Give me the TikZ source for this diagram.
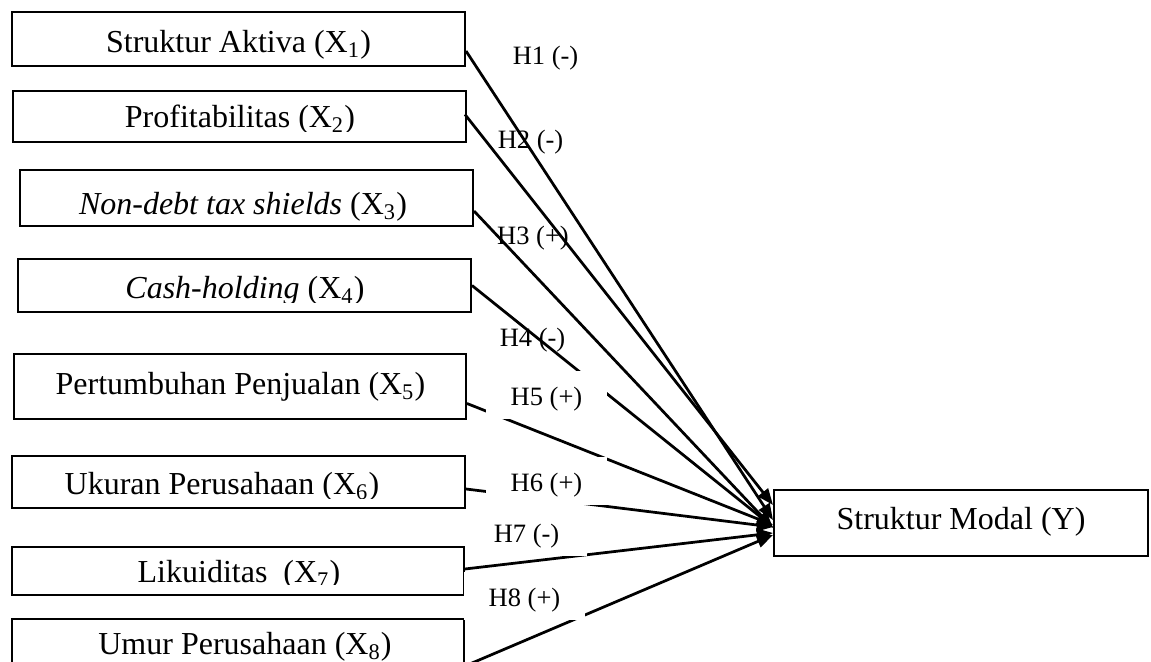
\documentclass[tikz,border=0pt]{standalone}
\usepackage{fontspec}
\setmainfont{Liberation Serif}
\usetikzlibrary{arrows.meta,calc,fit}
\begin{document}
\begin{tikzpicture}[x=0.4bp,y=-0.4bp,
  box/.style={draw,line width=0.8bp,inner sep=0pt},
  boxtext/.style={anchor=base,inner sep=0pt,font=\fontsize{12.8bp}{15bp}\selectfont},
  hyp/.style={anchor=base,inner sep=0pt,font=\fontsize{10.6bp}{12bp}\selectfont},
  hypbox/.style={hyp,fill=white,minimum width=48.4bp,text height=14bp,text depth=5.2bp},
  conn/.style={line width=1.1bp,-{Triangle[length=6.5bp,width=5bp]}}]
\useasboundingbox (0,0) rectangle (1151,662);
\clip (0,0) rectangle (1151,662);
% boxes
\node[box,fit={(12,12)(465,66)}] (x1) {};
\node[box,fit={(13,91)(466,142)}] (x2) {};
\node[box,fit={(20,170)(473,226)}] (x3) {};
\node[box,fit={(18,259)(471,312)}] (x4) {};
\node[box,fit={(14,354)(466,419)}] (x5) {};
\node[box,fit={(12,456)(465,508)}] (x6) {};
\node[box,fit={(12,547)(464,595)}] (x7) {};
\node[box,fit={(12,619)(464,675)}] (x8) {};
\node[box,fit={(774,490)(1148,556)}] (y) {};
% box texts
\node[boxtext] (t1) at (238.5,53) {Struktur Aktiva (X\textsubscript{1})};
\begin{scope}
\clip (x2.north west) rectangle ($(x2.south east)+(0,-11)$);
\node[boxtext] (t2) at (240,128) {Profitabilitas (X\textsubscript{2})};
\end{scope}
\node[boxtext] (t3) at (243,215) {\textit{Non-debt tax shields} (X\textsubscript{3})};
\begin{scope}
\clip (x4.north west) rectangle ($(x4.south east)+(0,-10)$);
\node[boxtext] (t4) at (245,299) {\textit{Cash-holding} (X\textsubscript{4})};
\end{scope}
\node[boxtext] (t5) at (240.5,395) {Pertumbuhan Penjualan (X\textsubscript{5})};
\begin{scope}
\clip (x6.north west) rectangle ($(x6.south east)+(0,-10)$);
\node[boxtext] (t6) at (222,495) {Ukuran Perusahaan (X\textsubscript{6})};
\end{scope}
\begin{scope}
\clip (x7.north west) rectangle ($(x7.south east)+(0,-11)$);
\node[boxtext] (t7) at (239,583) {Likuiditas~ (X\textsubscript{7})};
\end{scope}
\node[boxtext] (t8) at (245,655) {Umur Perusahaan (X\textsubscript{8})};
\node[boxtext] (ty) at (961,530) {Struktur Modal (Y)};
% hypothesis labels under the connectors
\node[hyp] (h1) at (545.5,65) {H1 (-)};
\node[hyp] (h2) at (530.5,149) {H2 (-)};
\node[hyp] (h3) at (533,245) {H3 (+)};
\node[hyp] (h4) at (532.5,347) {H4 (-)};
% connectors
\draw[conn] ($(x1.east)+(0,12)$) -- ($(y.west)+(0,-3)$);
\draw[conn] ($(x2.east)+(-2,-2)$) -- ($(y.west)+(0,-18)$);
\draw[conn] ($(x3.east)+(0,13)$) -- ($(y.west)+(0,5)$);
\draw[conn] (x4.east) -- ($(y.west)+(0,4)$);
\draw[conn] ($(x5.east)+(0,17)$) -- ($(y.west)+(0,2)$);
\draw[conn] ($(x6.east)+(0,7)$) -- ($(y.west)+(0,4)$);
\draw[conn] ($(x7.east)+(0,-2)$) -- ($(y.west)+(0,10)$);
\draw[conn] ($(x8.east)+(0,19)$) -- ($(y.west)+(0,12)$);
% hypothesis labels over the connectors
\node[hypbox] (h5) at (546.5,406) {H5 (+)};
\node[hypbox] (h6) at (546.5,492) {H6 (+)};
\node[hypbox] (h7) at (526.5,543) {H7 (-)};
\node[hypbox] (h8) at (524.5,607) {H8 (+)};
\end{tikzpicture}
\end{document}
